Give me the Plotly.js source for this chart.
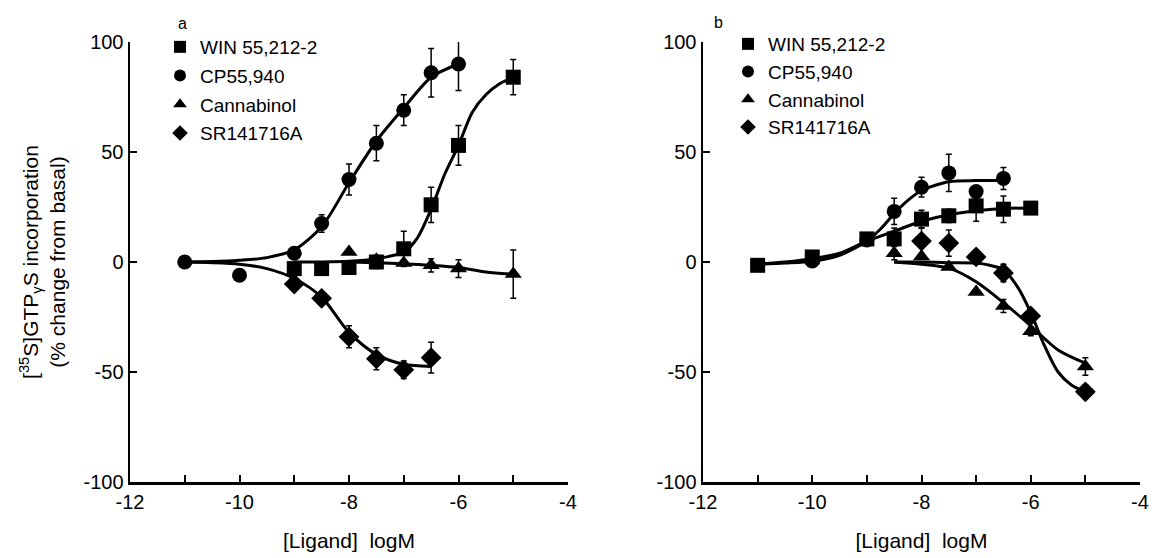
<!DOCTYPE html>
<html>
<head>
<meta charset="utf-8">
<script src="https://cdn.plot.ly/plotly-3.0.1.min.js"></script>
<style>html,body{margin:0;padding:0;background:#fff;} #chart{width:1156px;height:558px;}</style>
</head>
<body>
<div id="chart"></div>
<script>
// ---------- Names / labels ----------
const seriesNames = ["WIN 55,212-2", "CP55,940", "Cannabinol", "SR141716A"];
const panelLabels = ["a", "b"];
const xTitle = "[Ligand]\u00a0\u00a0logM";
const yTitle = "[<sup>35</sup>S]GTP<sub>\u03b3</sub>S incorporation<br>(% change from basal)";
const xTickVals = [-12, -10, -8, -6, -4];
const xTickText = ["-12", "-10", "-8", "-6", "-4"];
const xMinorVals = [-11, -9, -7, -5];
const yTickVals = [-100, -50, 0, 50, 100];
const yTickText = ["-100", "-50", "0", "50", "100"];

// ---------- Panel a : data points ----------
const xA_win = [-9, -8.5, -8, -7.5, -7, -6.5, -6, -5];
const yA_win = [-3, -3, -2.5, 0, 6, 26, 53, 84];
const eA_win = [0, 0, 0, 3, 8, 8, 9, 8];

const xA_cp = [-11, -10, -9, -8.5, -8, -7.5, -7, -6.5, -6];
const yA_cp = [0, -6, 4, 17.5, 37.5, 54, 69, 86, 90];
const eA_cp = [0, 0, 0, 4, 7, 8, 7, 11, 12];

const xA_cbn = [-8, -7.5, -7, -6.5, -6, -5];
const yA_cbn = [4.5, 1, -0.5, -1.5, -3, -5.5];
const eA_cbn = [0, 0, 0, 3, 4, 11];

const xA_sr = [-9, -8.5, -8, -7.5, -7, -6.5];
const yA_sr = [-10, -16.5, -34, -44, -49, -43.5];
const eA_sr = [0, 0, 5, 5, 4, 7];

// ---------- Panel a : fitted curves ----------
const cxA_win = [-9, -8.5, -8, -7.5, -7, -6.75, -6.5, -6.25, -6, -5.75, -5.5, -5.25, -5];
const cyA_win = [0, 0, 0.3, 1.5, 4.5, 11, 24, 40, 53, 68, 76, 81, 84];
const cxA_cp = [-11, -10.5, -10, -9.5, -9, -8.5, -8, -7.5, -7, -6.5, -6];
const cyA_cp = [0, 0.2, 0.8, 2, 5.5, 16, 36, 55, 70, 84, 90];
const cxA_cbn = [-8, -7.5, -7, -6.5, -6, -5.5, -5];
const cyA_cbn = [0, -0.3, -0.8, -1.5, -2.5, -4.5, -5.5];
const cxA_sr = [-11, -10.5, -10, -9.5, -9, -8.5, -8, -7.5, -7, -6.5];
const cyA_sr = [0, -0.3, -1, -3, -7.5, -16, -32, -42, -46.5, -47.5];

// ---------- Panel b : data points ----------
const xB_win = [-11, -10, -9, -8.5, -8, -7.5, -7, -6.5, -6];
const yB_win = [-1.5, 2.3, 10.5, 10.5, 19.5, 21, 25.5, 24, 24.5];
const eB_win = [0, 0, 0, 5, 4, 3, 7, 6, 0];

const xB_cp = [-10, -9, -8.5, -8, -7.5, -7, -6.5];
const yB_cp = [0.5, 10, 23, 34, 40.5, 32, 38];
const eB_cp = [0, 0, 6, 4.5, 8.5, 0, 5];

const xB_cbn = [-8.5, -8, -7.5, -7, -6.5, -6, -5];
const yB_cbn = [4, 2.5, -2.3, -13.6, -20, -31.5, -47.5];
const eB_cbn = [3, 0, 0, 0, 3, 2, 4];

const xB_sr = [-8, -7.5, -7, -6.5, -6, -5];
const yB_sr = [9.5, 8.6, 2.3, -5, -24.5, -59];
const eB_sr = [6, 6, 3, 4, 3, 3];

// ---------- Panel b : fitted curves ----------
const cxB_win = [-11, -10.5, -10, -9.5, -9, -8.5, -8, -7.5, -7, -6.5, -6];
const cyB_win = [-1, 0, 1.5, 4, 9.5, 14, 18.5, 21.5, 23.3, 24.3, 24.6];
const cxB_cp = [-11, -10.5, -10, -9.5, -9, -8.75, -8.5, -8.25, -8, -7.5, -7, -6.5];
const cyB_cp = [-1, -0.5, 0.3, 3, 9.5, 15, 22, 28, 32.5, 36.5, 37, 37];
const cxB_cbn = [-8.5, -8, -7.5, -7, -6.5, -6, -5.5, -5];
const cyB_cbn = [0, -1, -2.8, -9, -18.5, -29, -40, -46];
const cxB_sr = [-8.5, -8, -7.5, -7, -6.75, -6.5, -6.25, -6, -5.75, -5.5, -5.25, -5];
const cyB_sr = [0, 0, -0.3, -0.5, -1.5, -3.5, -11, -23, -38, -50, -56, -59];

// ---------- Build traces ----------
const symbols = ["square", "circle", "triangle-up", "diamond"];
const sizes = [15, 15, 15, 16];

function curve(x, y, xa, ya) {
  return {x: x, y: y, xaxis: xa, yaxis: ya, type: "scatter", mode: "lines",
    line: {color: "#000", width: 3, shape: "spline", smoothing: 0.8},
    showlegend: false, hoverinfo: "skip"};
}
function points(i, x, y, e, xa, ya, leg) {
  return {x: x, y: y, xaxis: xa, yaxis: ya, type: "scatter", mode: "markers",
    name: seriesNames[i], legend: leg, legendgroup: leg + i,
    marker: {symbol: symbols[i], size: sizes[i], color: "#000"},
    error_y: {type: "data", array: e, visible: true, color: "#000", thickness: 1.5, width: 3}};
}

const data = [
  curve(cxA_win, cyA_win, "x", "y"),
  curve(cxA_cp, cyA_cp, "x", "y"),
  curve(cxA_cbn, cyA_cbn, "x", "y"),
  curve(cxA_sr, cyA_sr, "x", "y"),
  curve(cxB_win, cyB_win, "x2", "y2"),
  curve(cxB_cp, cyB_cp, "x2", "y2"),
  curve(cxB_cbn, cyB_cbn, "x2", "y2"),
  curve(cxB_sr, cyB_sr, "x2", "y2"),
  points(0, xA_win, yA_win, eA_win, "x", "y", "legend"),
  points(1, xA_cp, yA_cp, eA_cp, "x", "y", "legend"),
  points(2, xA_cbn, yA_cbn, eA_cbn, "x", "y", "legend"),
  points(3, xA_sr, yA_sr, eA_sr, "x", "y", "legend"),
  points(0, xB_win, yB_win, eB_win, "x2", "y2", "legend2"),
  points(1, xB_cp, yB_cp, eB_cp, "x2", "y2", "legend2"),
  points(2, xB_cbn, yB_cbn, eB_cbn, "x2", "y2", "legend2"),
  points(3, xB_sr, yB_sr, eB_sr, "x2", "y2", "legend2")
];

const FONT = "Liberation Sans, Arial, Helvetica, sans-serif";
function xaxisDef(dom, anchor) {
  return {domain: dom, anchor: anchor, range: [-12, -4], tickmode: "array",
    tickvals: xTickVals, ticktext: xTickText,
    ticks: "inside", ticklen: 7, tickwidth: 2, tickcolor: "#000",
    minor: {tickmode: "array", tickvals: xMinorVals, ticks: "inside", ticklen: 7, tickwidth: 2,
      tickcolor: "#000", showgrid: false},
    showline: true, linewidth: 2.5, linecolor: "#000", showgrid: false, zeroline: false,
    tickfont: {family: FONT, size: 20, color: "#000"},
    title: {text: xTitle, font: {family: FONT, size: 21, color: "#000"}, standoff: 22}};
}
function yaxisDef(anchor, withTitle) {
  const ax = {domain: [0, 1], anchor: anchor, range: [-100, 100], tickmode: "array",
    tickvals: yTickVals, ticktext: yTickText,
    ticks: "inside", ticklen: 7, tickwidth: 2, tickcolor: "#000",
    showline: true, linewidth: 2.5, linecolor: "#000", showgrid: false, zeroline: false,
    tickfont: {family: FONT, size: 20, color: "#000"}};
  if (withTitle) ax.title = {text: yTitle, font: {family: FONT, size: 21, color: "#000"}, standoff: 12};
  return ax;
}
const legendDef = (x, y, gap) => ({x: x, y: y, xanchor: "left", yanchor: "top", xref: "paper", yref: "paper",
  bgcolor: "rgba(0,0,0,0)", borderwidth: 0, font: {family: FONT, size: 19, color: "#000"},
  tracegroupgap: gap, itemsizing: "constant"});

const layout = {
  width: 1156, height: 558,
  margin: {l: 130, r: 16, t: 42, b: 76},
  paper_bgcolor: "#fff", plot_bgcolor: "#fff",
  showlegend: true,
  xaxis: xaxisDef([0, 438 / 1010], "y"),
  yaxis: yaxisDef("x", true),
  xaxis2: xaxisDef([573 / 1010, 1], "y2"),
  yaxis2: yaxisDef("x2", false),
  legend: legendDef(30 / 1010, 1 + 14 / 440, 1),
  legend2: legendDef(598 / 1010, 1 + 17 / 440, 0),
  annotations: [
    {text: panelLabels[0], xref: "paper", yref: "paper", x: 52 / 1010, y: 1 + 18 / 440, showarrow: false,
      xanchor: "center", yanchor: "middle", font: {family: FONT, size: 16, color: "#000"}},
    {text: panelLabels[1], xref: "paper", yref: "paper", x: 588 / 1010, y: 1 + 20 / 440, showarrow: false,
      xanchor: "center", yanchor: "middle", font: {family: FONT, size: 16, color: "#000"}}
  ]
};

Plotly.newPlot("chart", data, layout, {displayModeBar: false, staticPlot: true});
</script>
</body>
</html>
